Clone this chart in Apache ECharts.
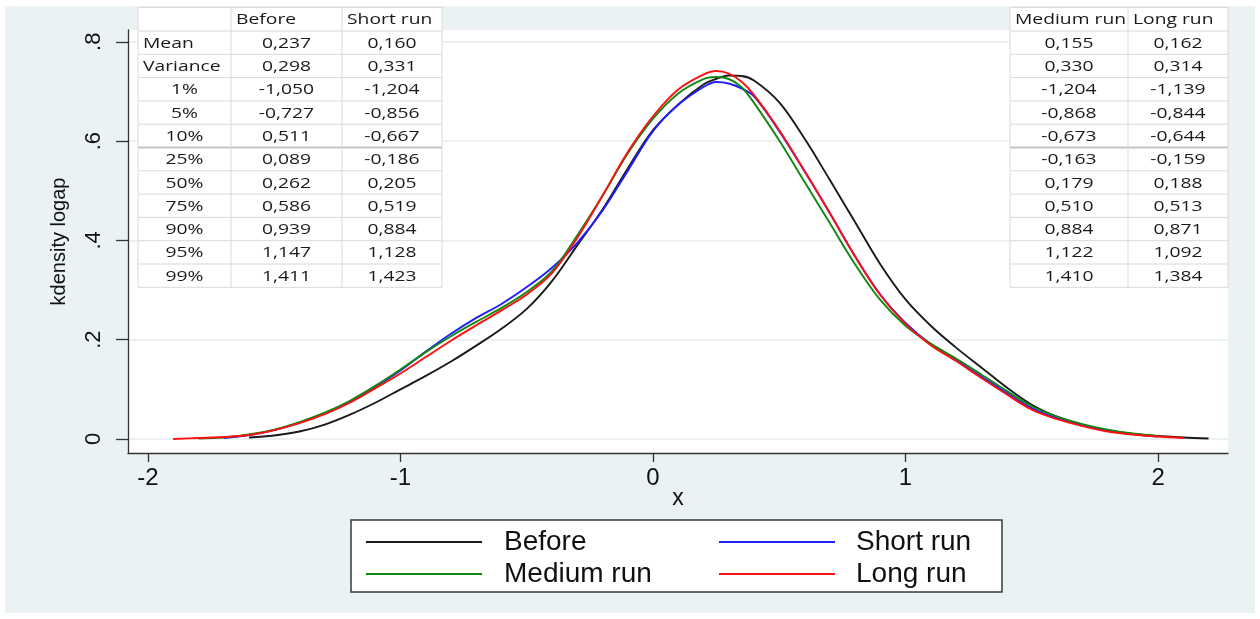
<!DOCTYPE html>
<html><head><meta charset="utf-8">
<script src="https://cdn.jsdelivr.net/npm/echarts@6/dist/echarts.min.js"></script>
<style>html,body{margin:0;padding:0;background:#fff}#chart{width:1260px;height:619px}</style>
</head><body><div id="chart"></div>
<script>
// ---- density curves ----
const xs        = [-1.9,-1.8,-1.7,-1.6,-1.5,-1.4,-1.3,-1.2,-1.1,-1.0,-0.9,-0.8,-0.7,-0.6,-0.5,-0.4,-0.3,-0.2,-0.1,0.0,0.1,0.2,0.25,0.3,0.35,0.4,0.5,0.6,0.7,0.8,0.9,1.0,1.1,1.2,1.3,1.4,1.5,1.6,1.7,1.8,1.9,2.0,2.1,2.2];
const before    = [null,null,null,0.003,0.007,0.015,0.029,0.049,0.073,0.100,0.127,0.156,0.188,0.222,0.262,0.318,0.390,0.462,0.545,0.622,0.674,0.714,0.725,0.732,0.731,0.722,0.678,0.605,0.522,0.437,0.352,0.281,0.228,0.184,0.144,0.104,0.069,0.045,0.029,0.017,0.010,0.006,0.003,0.001];
const shortRun  = [null,null,0.002,0.008,0.018,0.033,0.052,0.075,0.105,0.138,0.176,0.212,0.244,0.272,0.306,0.345,0.395,0.460,0.540,0.620,0.673,0.709,0.719,0.716,0.706,0.690,0.620,0.539,0.455,0.368,0.291,0.234,0.191,0.159,0.126,0.093,0.062,0.042,0.028,0.017,0.010,0.005,null,null];
const mediumRun = [null,0.001,0.003,0.009,0.019,0.034,0.053,0.077,0.107,0.140,0.175,0.207,0.236,0.264,0.296,0.338,0.410,0.490,0.575,0.645,0.696,0.725,0.729,0.725,0.709,0.677,0.601,0.518,0.435,0.352,0.280,0.228,0.192,0.162,0.130,0.097,0.066,0.045,0.030,0.019,0.011,0.006,null,null];
const longRun   = [0.000,0.002,0.004,0.008,0.018,0.032,0.050,0.073,0.102,0.132,0.165,0.198,0.229,0.259,0.291,0.334,0.405,0.490,0.578,0.650,0.704,0.734,0.741,0.736,0.720,0.693,0.622,0.540,0.455,0.368,0.290,0.232,0.189,0.157,0.123,0.090,0.059,0.040,0.026,0.015,0.009,0.005,0.002,null];
const seriesNames = ['Before','Short run','Medium run','Long run'];
const xTicks = [-2,-1,0,1,2];
const yTicks = [0,0.2,0.4,0.6,0.8];

// ---- summary tables ----
const rowLabels   = ['Mean','Variance','1%','5%','10%','25%','50%','75%','90%','95%','99%'];
const statBefore  = [0.237,0.298,-1.050,-0.727,0.511,0.089,0.262,0.586,0.939,1.147,1.411];
const statShort   = [0.160,0.331,-1.204,-0.856,-0.667,-0.186,0.205,0.519,0.884,1.128,1.423];
const statMedium  = [0.155,0.330,-1.204,-0.868,-0.673,-0.163,0.179,0.510,0.884,1.122,1.410];
const statLong    = [0.162,0.314,-1.139,-0.844,-0.644,-0.159,0.188,0.513,0.871,1.092,1.384];

const FONT = "'Liberation Sans', Arial, sans-serif";
const TFONT = "'Open Sans', sans-serif";
const colors = ['#1a1a1a','#1f1fff','#118811','#ff1010'];
const curves = [before, shortRun, mediumRun, longRun];

const fmt = v => v.toFixed(3).replace('.', ',');

// table layout
const rowTop = 7.5, headBottom = 31, rowH = 23.3;
function buildTable(colEdges, headers, cols) {
  const els = [];
  const x0 = colEdges[0], x1 = colEdges[colEdges.length - 1];
  const nRows = cols[0].length;
  const yEnd = headBottom + rowH * nRows;
  els.push({type:'rect', z: 100, shape:{x:x0, y:rowTop, width:x1-x0, height:yEnd-rowTop}, style:{fill:'#fff'}});
  const hy = [rowTop, headBottom];
  for (let r = 1; r <= nRows; r++) hy.push(headBottom + rowH * r);
  hy.forEach((y, i) => {
    const strong = (i === 6);
    els.push({type:'line', z: 101, shape:{x1:x0, y1:y, x2:x1, y2:y}, style:{stroke: strong ? '#c4c4c4' : '#d9d9d9', lineWidth: strong ? 2 : 1}});
  });
  colEdges.forEach(x => {
    els.push({type:'line', z: 101, shape:{x1:x, y1:rowTop, x2:x, y2:yEnd}, style:{stroke:'#d9d9d9', lineWidth:1}});
  });
  const txt = (text, x, y, align) => ({
    type:'text', z: 102, x: x, y: y, scaleX: 1.33, scaleY: 1,
    style:{text: text, fill:'#1a1a1a', font: '14.5px ' + TFONT, fontSize: 14.5, fontFamily: TFONT,
      textAlign: align, align: align, textVerticalAlign:'middle', verticalAlign:'middle'}
  });
  headers.forEach((h, c) => {
    if (h) els.push(txt(h, colEdges[c] + 5, (rowTop + headBottom) / 2 + 1, 'left'));
  });
  cols.forEach((col, c) => {
    col.forEach((v, r) => {
      const yc = headBottom + rowH * (r + 0.5) + 1;
      if (typeof v === 'string') {
        if (r < 2) els.push(txt(v, colEdges[c] + 5, yc, 'left'));
        else els.push(txt(v, (colEdges[c] + colEdges[c+1]) / 2, yc, 'center'));
      } else {
        els.push(txt(fmt(v), (colEdges[c] + colEdges[c+1]) / 2, yc, 'center'));
      }
    });
  });
  return els;
}

const graphicEls = [
  {type:'rect', z:-10, shape:{x:5, y:6, width:1250, height:607}, style:{fill:'#eaf2f3'}}
].concat(
  buildTable([138,231,342,442], ['', 'Before', 'Short run'], [rowLabels, statBefore, statShort]),
  buildTable([1010,1128,1228], ['Medium run', 'Long run'], [statMedium, statLong])
);

const series = curves.map((vals, k) => ({
  name: seriesNames[k], type:'line', smooth: 0.35, symbol:'none', z: 2 + k,
  lineStyle:{color: colors[k], width: 1.9}, itemStyle:{color: colors[k]},
  data: xs.map((x, i) => [x, vals[i]]).filter(p => p[1] !== null)
}));

const chart = echarts.init(document.getElementById('chart'), null, {renderer:'canvas'});
chart.setOption({
  animation: false,
  backgroundColor: '#fff',
  graphic: { elements: graphicEls },
  grid: { left: 128, top: 30, width: 1100, height: 423, show: true, backgroundColor: '#fff', borderWidth: 0 },
  legend: {
    left: 351, top: 520, width: 640, orient: 'horizontal', icon: 'rect',
    padding: [8, 12, 4, 15], itemWidth: 116, itemHeight: 2, itemGap: 4,
    backgroundColor: '#fff', borderColor: '#3a3a3a', borderWidth: 1.5, borderRadius: 0,
    selectedMode: false, data: seriesNames,
    formatter: name => (name === 'Before' || name === 'Medium run') ? '{a|' + name + '}' : '{b|' + name + '}',
    textStyle: { fontFamily: FONT, fontSize: 28, color: '#111',
      rich: { a: {width: 211, padding: [0,0,0,17], fontSize: 28, fontFamily: FONT, lineHeight: 27, color:'#111'},
              b: {width: 134, padding: [0,0,0,16], fontSize: 28, fontFamily: FONT, lineHeight: 27, color:'#111'} } }
  },
  xAxis: {
    type: 'value', min: -2.079, max: 2.277,
    axisLine: { show: true, onZero: false, lineStyle: { color: '#333', width: 1.3 } },
    axisTick: { show: true, length: 9, customValues: xTicks, lineStyle: { color: '#333', width: 1.3 } },
    axisLabel: { customValues: xTicks, formatter: v => String(v), fontFamily: FONT, fontSize: 24, color: '#111', margin: 13 },
    splitLine: { show: false },
    name: 'x', nameLocation: 'middle', nameGap: 34, nameMoveOverlap: false,
    nameTextStyle: { fontFamily: FONT, fontSize: 23, color: '#111' }
  },
  yAxis: {
    type: 'value', min: -0.0282, max: 0.8237,
    axisLine: { show: true, onZero: false, lineStyle: { color: '#333', width: 1.3 } },
    axisTick: { show: true, length: 12, customValues: yTicks, lineStyle: { color: '#333', width: 1.3 } },
    axisLabel: { customValues: yTicks, rotate: 90, formatter: v => v === 0 ? '0' : String(+v.toFixed(1)).replace('0.', '.'),
      fontFamily: FONT, fontSize: 22, color: '#111', margin: 23 },
    splitLine: { show: true, lineStyle: { color: '#e4edef', width: 1.5 } },
    name: 'kdensity logap', nameLocation: 'middle', nameGap: 59, nameRotate: 90, nameMoveOverlap: false,
    nameTextStyle: { fontFamily: FONT, fontSize: 20, color: '#111' }
  },
  series: series
});
</script></body></html>
